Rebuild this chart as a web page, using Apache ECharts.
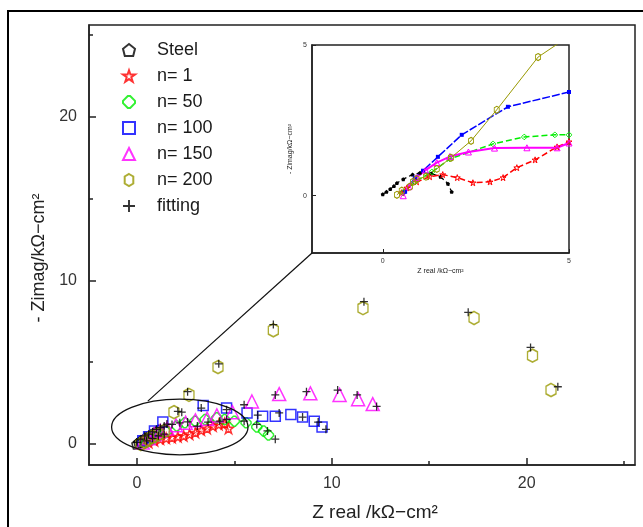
<!DOCTYPE html>
<html>
<head>
<meta charset="utf-8">
<script src="https://cdn.jsdelivr.net/npm/echarts@6/dist/echarts.min.js"></script>
<style>
html, body { margin: 0; padding: 0; background: #fff; }
#chart { width: 643px; height: 527px; }
</style>
</head>
<body>
<div id="chart"></div>
<script>
// main plot: [Z real, -Z imag] in kOhm-cm2
var steel = [[0.0,0.0],[0.1,0.1],[0.2,0.2],[0.35,0.3],[0.5,0.4],[0.7,0.55],[0.9,0.7],[1.1,0.85]];
var n1 = [[0.6,0.1],[0.9,0.2],[1.2,0.3],[1.5,0.35],[1.8,0.4],[2.1,0.45],[2.4,0.5],[2.7,0.6],[3.0,0.7],[3.3,0.85],[3.6,0.95],[3.9,1.1],[4.2,1.2],[4.5,1.25],[4.7,0.95]];
var n50 = [[0.5,0.1],[0.8,0.3],[1.1,0.5],[1.5,0.75],[2.05,1.1],[2.46,1.3],[2.98,1.4],[3.5,1.5],[4.1,1.6],[4.5,1.5],[5.0,1.4],[5.6,1.3],[6.15,1.04],[6.5,0.8],[6.75,0.55]];
var n100 = [[0.3,0.2],[0.6,0.45],[0.9,0.8],[1.33,1.34],[3.4,2.35],[4.6,2.2],[5.65,1.9],[6.45,1.7],[7.1,1.7],[7.9,1.8],[8.5,1.65],[9.1,1.4],[9.5,1.04]];
var n150 = [[0.3,0.1],[0.6,0.35],[0.9,0.6],[1.2,0.8],[1.55,0.95],[2.0,1.15],[2.5,1.3],[3.0,1.45],[3.6,1.55],[4.1,1.75],[4.9,1.95],[5.9,2.6],[7.3,3.05],[8.9,3.1],[10.4,3.0],[11.35,2.74],[12.1,2.44]];
var n200 = [[0.2,0.0],[0.4,0.15],[0.6,0.3],[0.8,0.45],[1.1,0.6],[1.4,0.8],[1.9,1.95],[2.67,3.0],[4.16,4.7],[7.0,6.95],[11.6,8.3],[17.3,7.7],[20.3,5.4],[21.25,3.3]];
var fitting = [[21.6,3.5],[20.2,5.9],[17.0,8.05],[11.65,8.7],[7.0,7.3],[4.2,4.9],[2.6,3.2],[2.1,2.0],
  [12.3,2.3],[11.3,3.0],[10.3,3.3],[8.7,3.2],[7.1,3.0],[5.5,2.4],
  [9.7,0.9],[9.3,1.34],[8.5,1.65],[7.3,1.9],[6.2,1.77],[5.5,1.4],
  [7.1,0.3],[6.7,0.8],[6.15,1.2],[4.6,2.1],[4.6,1.5],[4.25,1.4],[3.65,1.34],[3.1,1.1],[2.3,1.95],[1.54,1.22],
  [0.0,0.1],[0.2,0.3],[0.4,0.5],[0.6,0.6],[0.8,0.75],[1.0,0.9],[1.2,1.0],[1.4,1.1],[1.8,1.2],[2.2,1.3],[2.6,1.35],
  [0.5,0.2],[0.8,0.35],[1.1,0.5],[1.4,0.6],[3.3,2.2]];

// inset (zoom of the low-impedance region)
var insetSteel = [[0.0,0.05],[0.1,0.13],[0.2,0.22],[0.3,0.32],[0.38,0.42],[0.55,0.55],[0.8,0.7],[1.0,0.76],[1.3,0.74],[1.55,0.63],[1.75,0.4],[1.85,0.13]];
var insetN1 = [[0.5,0.1],[0.65,0.26],[0.91,0.46],[1.26,0.63],[1.61,0.7],[2.0,0.6],[2.42,0.43],[2.88,0.46],[3.23,0.6],[3.6,0.93],[4.09,1.19],[4.68,1.62],[5.0,1.79]];
var insetN50 = [[0.54,0.1],[0.86,0.46],[1.32,0.79],[1.8,1.22],[2.96,1.72],[3.8,1.95],[4.62,2.02],[5.0,2.02]];
var insetN100 = [[0.6,0.13],[0.86,0.6],[1.08,0.83],[1.48,1.29],[2.12,2.02],[3.36,2.95],[5.0,3.44]];
var insetN150 = [[0.55,0.0],[0.7,0.3],[0.9,0.6],[1.15,0.85],[1.45,1.1],[1.8,1.3],[2.3,1.45],[3.0,1.58],[3.87,1.59],[4.68,1.59],[5.0,1.75]];
var insetN200 = [[0.38,0.03],[0.51,0.17],[0.73,0.3],[0.81,0.46],[0.91,0.55],[1.16,0.63],[1.45,0.89],[1.83,1.26],[2.37,1.82],[3.06,2.85],[4.17,4.6],[7.0,6.95]];

var names = ['Steel', 'n= 1', 'n= 50', 'n= 100', 'n= 150', 'n= 200', 'fitting'];
var mainTicks = [0, 10, 20];
var minorTicks = [5, 15, 25];
var insetTicks = [0, 5];
var mainX = [-2.46, 25.56], mainY = [-1.28, 25.6];
var insetX = [-1.9, 5], insetY = [-1.9, 5];
var ellipseCenter = [2.2, 1.04], ellipseRadius = [3.5, 1.7];
var connectorFrom = [0.56, 2.62];

var colors = ['#000000', '#ff0000', '#00ee00', '#0000ff', '#ff00ff', '#999900', '#000000'];
var symbols = [
  'path://M5,0 L10,4 L8.5,10 L1.5,10 L0,4 Z',
  'path://M5,0 L6.2,3.6 L10,3.6 L6.9,5.8 L8.1,9.5 L5,7.3 L1.9,9.5 L3.1,5.8 L0,3.6 L3.8,3.6 Z',
  'path://M4,0 L6,0 L10,4 L10,6 L6,10 L4,10 L0,6 L0,4 Z',
  'rect',
  'triangle',
  'path://M5,0 L9.3,2.5 L9.3,9.5 L5,12 L0.7,9.5 L0.7,2.5 Z',
  'path://M4.2,0 L5.8,0 L5.8,4.2 L10,4.2 L10,5.8 L5.8,5.8 L5.8,10 L4.2,10 L4.2,5.8 L0,5.8 L0,4.2 L4.2,4.2 Z'
];
var sizes = [10, 10, 10, 10, 13, [10, 13], 8];
var fontFamily = '"Liberation Sans", Arial, sans-serif';

function hollow(i, data) {
  return {
    name: names[i], type: 'scatter', xAxisIndex: 0, yAxisIndex: 0,
    symbol: symbols[i], symbolSize: sizes[i], data: data,
    itemStyle: { color: 'rgba(255,255,255,0)', borderColor: colors[i], borderWidth: 1.5 }
  };
}
function insetLine(i, data, lineType, width, symSize, filled) {
  return {
    name: 'inset ' + names[i], type: 'line', xAxisIndex: 2, yAxisIndex: 2,
    data: data, symbol: symbols[i], symbolSize: symSize, showSymbol: true,
    lineStyle: { color: colors[i], width: width, type: lineType },
    itemStyle: filled ? { color: colors[i] } :
      { color: 'rgba(255,255,255,0)', borderColor: colors[i], borderWidth: 1 }
  };
}

var option = {
  animation: false,
  backgroundColor: '#fff',
  textStyle: { fontFamily: fontFamily },
  grid: [
    { left: 89, top: 25, right: 8, bottom: 61, show: true, borderColor: '#222', borderWidth: 1.5, backgroundColor: 'transparent' },
    { left: 312, top: 45, right: 74, bottom: 274, show: true, borderColor: '#222', borderWidth: 1.5, backgroundColor: '#fff' }
  ],
  legend: {
    data: names, orient: 'vertical', left: 122, top: 41, padding: 0,
    itemWidth: 12, itemHeight: 12, itemGap: 8,
    textStyle: { fontSize: 18, color: '#1a1a1a', fontFamily: fontFamily, padding: [0, 0, 0, 17] }
  },
  xAxis: [
    {
      type: 'value', gridIndex: 0, position: 'bottom', min: mainX[0], max: mainX[1],
      name: 'Z real /kΩ\u2212cm²', nameLocation: 'middle', nameGap: 38,
      nameTextStyle: { fontSize: 19, color: '#222', padding: [0, 0, 0, 26] },
      axisLine: { onZero: false, lineStyle: { color: '#222', width: 1.5 } },
      axisTick: { inside: true, length: 7, customValues: mainTicks, lineStyle: { color: '#222', width: 1.5 } },
      axisLabel: { customValues: mainTicks, fontSize: 16, color: '#333', margin: 11 },
      splitLine: { show: false }
    },
    {
      type: 'value', gridIndex: 0, position: 'bottom', min: mainX[0], max: mainX[1],
      axisLine: { show: false, onZero: false },
      axisTick: { inside: true, length: 4, customValues: minorTicks, lineStyle: { color: '#222', width: 1.5 } },
      axisLabel: { show: false }, splitLine: { show: false }
    },
    {
      type: 'value', gridIndex: 1, position: 'bottom', min: insetX[0], max: insetX[1],
      name: 'Z real /kΩ\u2212cm²', nameLocation: 'middle', nameGap: 15,
      nameTextStyle: { fontSize: 7, color: '#222' },
      axisLine: { onZero: false, lineStyle: { color: '#222', width: 1.5 } },
      axisTick: { inside: true, length: 4, customValues: insetTicks, lineStyle: { color: '#222' } },
      axisLabel: { customValues: insetTicks, fontSize: 7, color: '#333', margin: 5 },
      splitLine: { show: false }
    }
  ],
  yAxis: [
    {
      type: 'value', gridIndex: 0, position: 'left', min: mainY[0], max: mainY[1],
      name: '- Zimag/kΩ\u2212cm²', nameLocation: 'middle', nameGap: 40,
      nameTextStyle: { fontSize: 18, color: '#222', padding: [0, 26, 0, 0] },
      axisLine: { onZero: false, lineStyle: { color: '#222', width: 1.5 } },
      axisTick: { inside: true, length: 7, customValues: mainTicks, lineStyle: { color: '#222', width: 1.5 } },
      axisLabel: { customValues: mainTicks, fontSize: 16, color: '#333', margin: 12 },
      splitLine: { show: false }
    },
    {
      type: 'value', gridIndex: 0, position: 'left', min: mainY[0], max: mainY[1],
      axisLine: { show: false, onZero: false },
      axisTick: { inside: true, length: 4, customValues: minorTicks, lineStyle: { color: '#222', width: 1.5 } },
      axisLabel: { show: false }, splitLine: { show: false }
    },
    {
      type: 'value', gridIndex: 1, position: 'left', min: insetY[0], max: insetY[1],
      name: '- Zimag/kΩ\u2212cm²', nameLocation: 'middle', nameGap: 18,
      nameTextStyle: { fontSize: 7, color: '#222' },
      axisLine: { onZero: false, lineStyle: { color: '#222', width: 1.5 } },
      axisTick: { inside: true, length: 4, customValues: insetTicks, lineStyle: { color: '#222' } },
      axisLabel: { customValues: insetTicks, fontSize: 7, color: '#333', margin: 5 },
      splitLine: { show: false }
    }
  ],
  series: [
    hollow(0, steel),
    hollow(1, n1),
    hollow(2, n50),
    hollow(3, n100),
    hollow(4, n150),
    hollow(5, n200),
    {
      name: names[6], type: 'scatter', xAxisIndex: 0, yAxisIndex: 0, z: 5,
      symbol: symbols[6], symbolSize: sizes[6], data: fitting,
      itemStyle: { color: '#000' }
    },
    insetLine(0, insetSteel, [5, 3], 1.2, 4, true),
    insetLine(1, insetN1, [6, 3], 1.5, 6, false),
    insetLine(2, insetN50, [6, 3], 1.5, 5, false),
    insetLine(3, insetN100, [8, 2], 1.5, 4, true),
    insetLine(4, insetN150, 'solid', 2, 6, false),
    insetLine(5, insetN200, 'solid', 1, [5, 7], false)
  ],
  graphic: [
    { id: 'frameTop', type: 'line', shape: { x1: 8, y1: 11, x2: 643, y2: 11 }, style: { stroke: '#000', lineWidth: 2 } },
    { id: 'frameLeft', type: 'line', shape: { x1: 8, y1: 10, x2: 8, y2: 527 }, style: { stroke: '#000', lineWidth: 2 } }
  ]
};

var chart = echarts.init(document.getElementById('chart'));
chart.setOption(option);

// ellipse round the zoomed region and the line to the inset corner
var c = chart.convertToPixel({ gridIndex: 0 }, ellipseCenter);
var r = chart.convertToPixel({ gridIndex: 0 }, [ellipseCenter[0] + ellipseRadius[0], ellipseCenter[1] + ellipseRadius[1]]);
var a = chart.convertToPixel({ gridIndex: 0 }, connectorFrom);
var b = chart.convertToPixel({ gridIndex: 1 }, [insetX[0], insetY[0]]);
chart.setOption({
  graphic: [
    { id: 'zoomEllipse', type: 'ellipse', z: 4, shape: { cx: c[0], cy: c[1], rx: r[0] - c[0], ry: c[1] - r[1] },
      style: { fill: 'none', stroke: '#111', lineWidth: 1.3 } },
    { id: 'zoomLine', type: 'line', z: 4, shape: { x1: a[0], y1: a[1], x2: b[0], y2: b[1] },
      style: { stroke: '#111', lineWidth: 1.2 } }
  ]
});
</script>
</body>
</html>
